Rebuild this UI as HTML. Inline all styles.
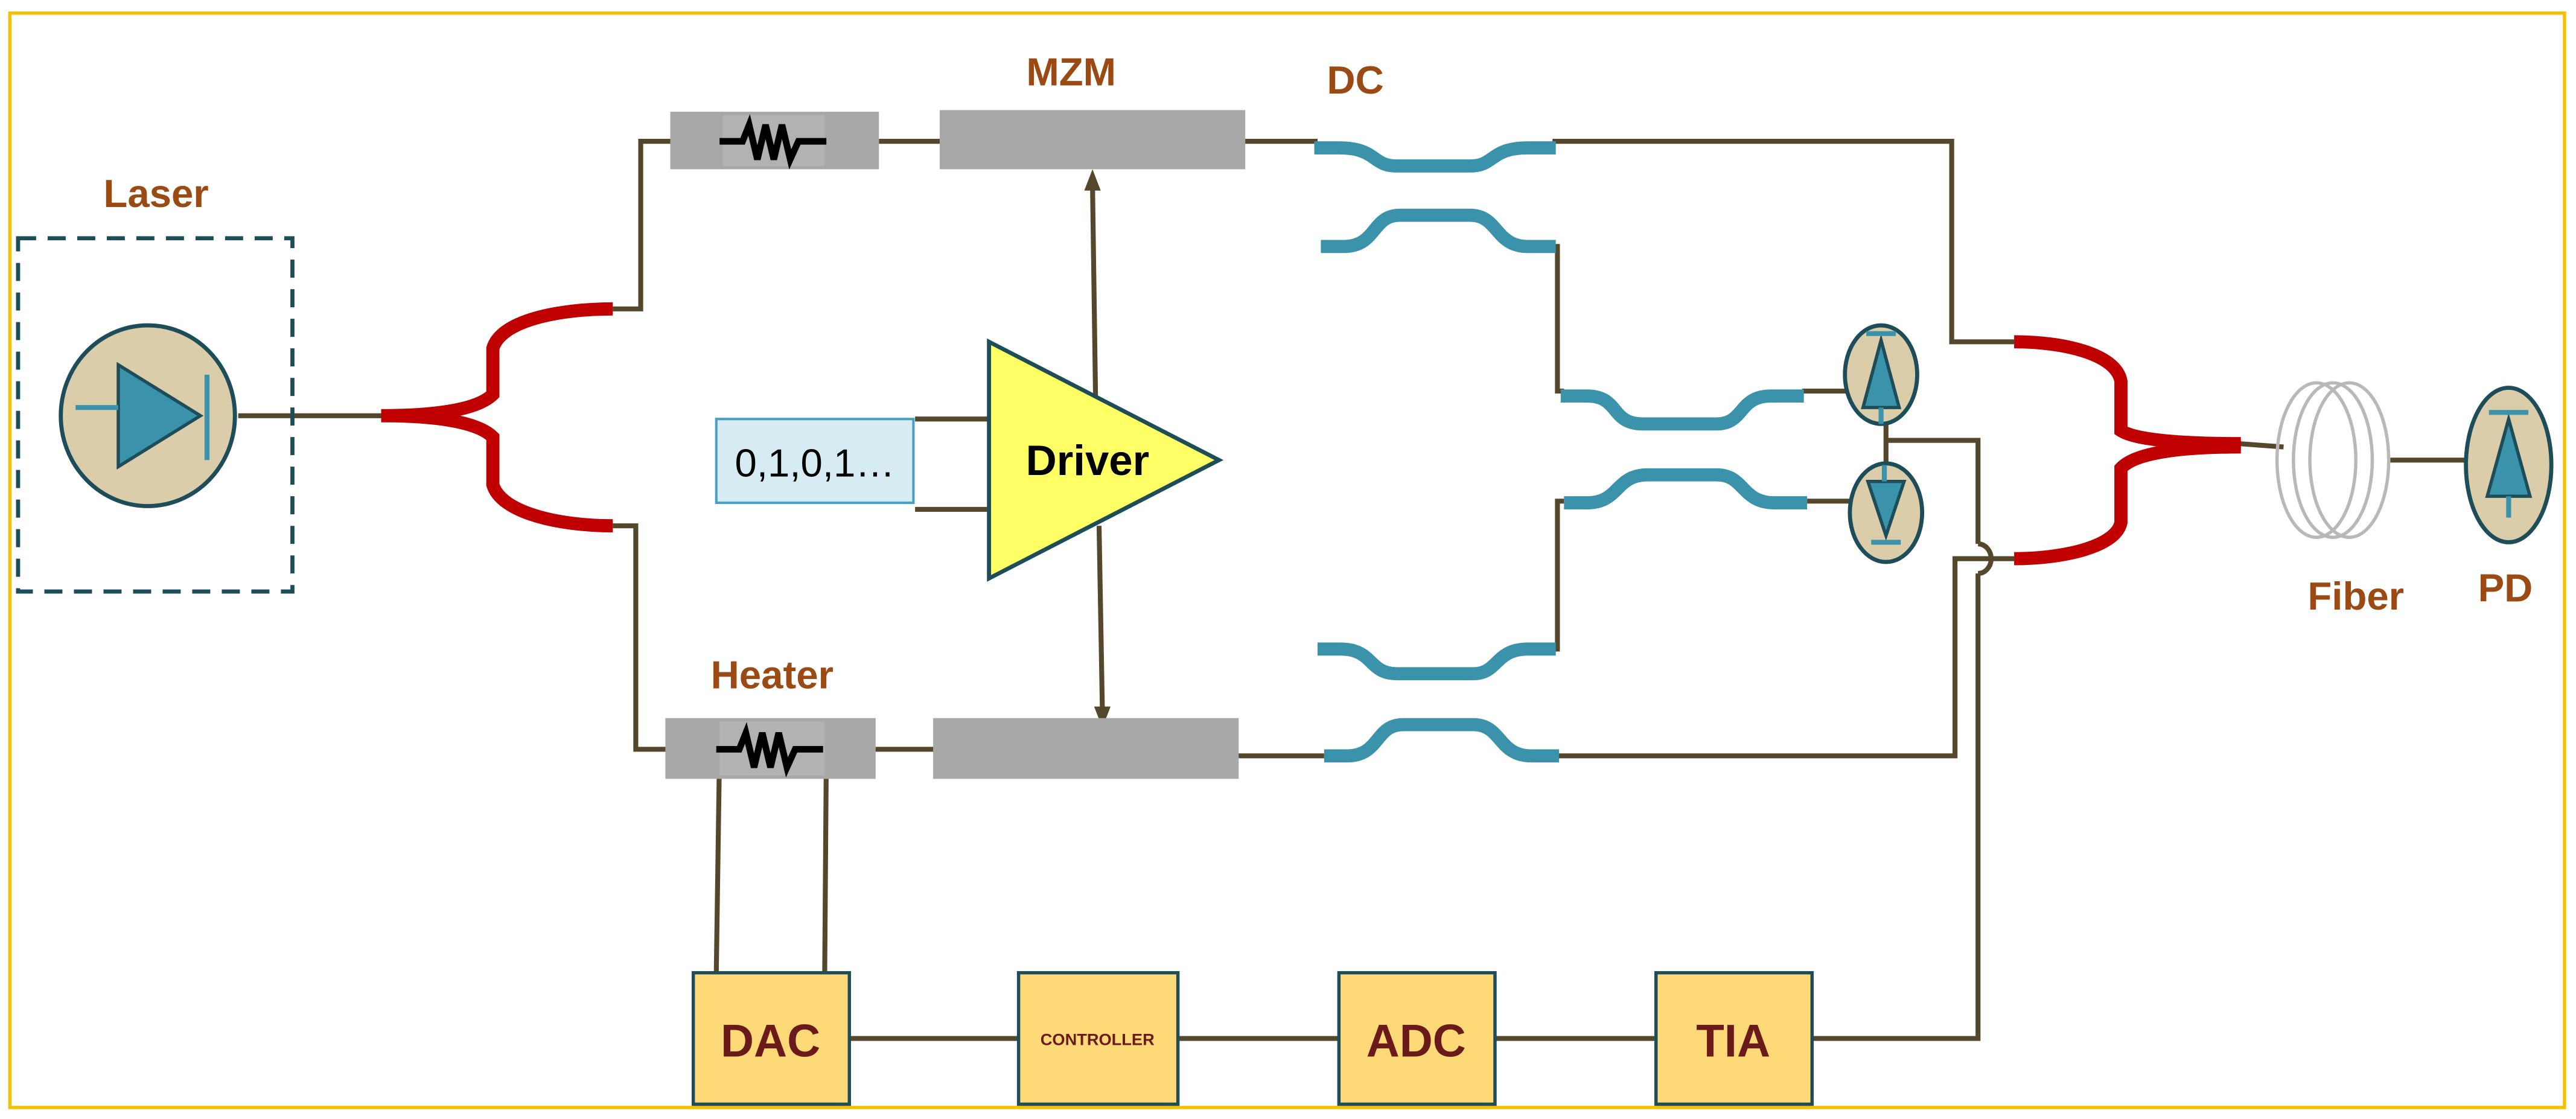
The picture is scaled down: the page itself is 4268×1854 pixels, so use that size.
<!DOCTYPE html>
<html><head><meta charset="utf-8"><style>
html,body{margin:0;padding:0;background:#fff;}
svg{display:block;}
text{font-family:"Liberation Sans",sans-serif;font-weight:bold;}
</style></head><body>
<svg width="4268" height="1854" viewBox="0 0 1568 681" preserveAspectRatio="none" xmlns="http://www.w3.org/2000/svg">
<rect x="0" y="0" width="1568" height="681" fill="#fff"/>
<rect x="6" y="8" width="1555" height="666" fill="none" stroke="#f5c000" stroke-width="2"/>

<g stroke="#54472c" stroke-width="3" fill="none">
<!-- laser to splitter -->
<line x1="145" y1="253" x2="232" y2="253"/>
<polyline points="373,188 390,188 390,86 410,86"/>
<polyline points="373,320 387,320 387,456 407,456"/>
<line x1="535" y1="86" x2="573" y2="86"/>
<line x1="532" y1="456" x2="569" y2="456"/>
<line x1="757" y1="86" x2="802" y2="86"/>
<line x1="753" y1="460" x2="806" y2="460"/>
<polyline points="945,86 1188,86 1188,208 1226,208"/>
<polyline points="945,150 948,150 948,238 952,238"/>
<polyline points="945,395 948,395 948,305 952,305"/>
<polyline points="945,460 1190,460 1190,340 1226,340"/>
<line x1="1097" y1="238" x2="1132" y2="238"/>
<line x1="1100" y1="305" x2="1135" y2="305"/>
<line x1="1148" y1="258" x2="1148" y2="283"/>
<polyline points="1148,268 1204,268 1204,331"/>
<path d="M1204,331 A8,9 0 0 1 1204,349"/>
<polyline points="1204,349 1204,632 1103,632"/>
<line x1="1363" y1="270" x2="1390" y2="272"/>
<line x1="1455" y1="280" x2="1503" y2="280"/>
<!-- bottom chain -->
<line x1="517" y1="632" x2="620" y2="632"/>
<line x1="717" y1="632" x2="815" y2="632"/>
<line x1="910" y1="632" x2="1008" y2="632"/>
<line x1="436" y1="592" x2="438" y2="456"/>
<line x1="502" y1="592" x2="503" y2="456"/>
<!-- driver inputs -->
<line x1="557" y1="255" x2="603" y2="255"/>
<line x1="557" y1="310" x2="603" y2="310"/>
<!-- arrows -->
<line x1="667" y1="252" x2="665" y2="112"/>
<line x1="669" y1="320" x2="671" y2="432"/>
</g>
<polygon points="665,103 660,116 670,116" fill="#54472c"/>
<polygon points="671,443 666,430 676,430" fill="#54472c"/>

<!-- Laser -->
<text x="95" y="126" font-size="24" fill="#9a4a12" text-anchor="middle">Laser</text>
<rect x="11" y="145" width="167" height="215" fill="none" stroke="#1e4d5a" stroke-width="2.5" stroke-dasharray="11,7"/>
<ellipse cx="90" cy="253" rx="53" ry="55" fill="#dccdaa" stroke="#1e4d5a" stroke-width="2.5"/>
<polygon points="72,222 72,284 122,253" fill="#3a93ab" stroke="#1e4d5a" stroke-width="2"/>
<line x1="126" y1="228" x2="126" y2="280" stroke="#3a93ab" stroke-width="3"/>
<line x1="46" y1="248" x2="72" y2="248" stroke="#3a93ab" stroke-width="3"/>

<!-- red splitter -->
<g stroke="#c00000" stroke-width="8" fill="none" stroke-linecap="butt">
<path d="M232,253 C262,253 290,250 300,240 L300,212 C305,195 340,188 373,188"/>
<path d="M232,253 C262,253 290,256 300,266 L300,295 C305,312 340,320 373,320"/>
<path d="M1226,208 C1255,208 1288,215 1291,232 L1291,262 C1300,268 1330,270 1364,270"/>
<path d="M1226,340 C1255,340 1288,333 1291,318 L1291,285 C1300,275 1330,272 1364,272"/>
</g>

<!-- heaters -->
<rect x="408" y="68" width="127" height="35" fill="#a8a8a8"/>
<rect x="440" y="70" width="62" height="31" fill="#b2b2b2"/>
<rect x="405" y="437" width="128" height="37" fill="#a8a8a8"/>
<rect x="438" y="439" width="64" height="33" fill="#b2b2b2"/>
<g stroke="#000" stroke-width="4" fill="none">
<polyline points="438,86 452,86 456,76 461,97 466,76 471,97 476,76 481,97 486,86 503,86"/>
<polyline points="436,456 450,456 454,446 459,467 464,446 469,467 474,446 479,467 484,456 501,456"/>
</g>
<!-- MZM arms -->
<rect x="572" y="67" width="186" height="36" fill="#a8a8a8"/>
<rect x="568" y="437" width="186" height="37" fill="#a8a8a8"/>
<text x="652" y="52" font-size="24" fill="#9a4a12" text-anchor="middle">MZM</text>
<text x="470" y="419" font-size="24" fill="#9a4a12" text-anchor="middle">Heater</text>
<text x="825" y="57" font-size="24" fill="#9a4a12" text-anchor="middle">DC</text>

<!-- data box & driver -->
<rect x="436" y="255" width="120" height="51" fill="#d6ecf2" stroke="#4aa0c0" stroke-width="1.5"/>
<text x="496" y="290" font-size="24" font-weight="normal" fill="#000" text-anchor="middle" style="font-weight:normal">0,1,0,1…</text>
<polygon points="602,208 602,352 742,280" fill="#ffff66" stroke="#1e4d5a" stroke-width="2.5"/>
<text x="662" y="289" font-size="26" fill="#000" text-anchor="middle">Driver</text>

<!-- directional couplers -->
<g stroke="#3a93ab" stroke-width="8" fill="none">
<path d="M800,90 L815,90 C838,90 835,101 850,101 L895,101 C910,101 907,90 930,90 L947,90"/>
<path d="M804,150 L818,150 C838,150 835,131 852,131 L895,131 C912,131 910,150 930,150 L947,150"/>
<path d="M950,241 L966,241 C986,241 980,258 1000,258 L1045,258 C1062,258 1058,241 1078,241 L1098,241"/>
<path d="M952,306 L966,306 C986,306 983,289 1003,289 L1045,289 C1062,289 1060,306 1080,306 L1100,306"/>
<path d="M802,395 L816,395 C836,395 833,410 850,410 L897,410 C912,410 910,395 930,395 L947,395"/>
<path d="M806,460 L820,460 C840,460 837,441 854,441 L897,441 C914,441 912,460 932,460 L949,460"/>
</g>

<!-- balanced PDs -->
<ellipse cx="1145" cy="228" rx="22" ry="30" fill="#dccdaa" stroke="#1e4d5a" stroke-width="2.5"/>
<polygon points="1145,207 1134,248 1156,248" fill="#3a93ab" stroke="#1e4d5a" stroke-width="2"/>
<line x1="1136" y1="203" x2="1154" y2="203" stroke="#3a93ab" stroke-width="3"/>
<line x1="1145" y1="248" x2="1145" y2="258" stroke="#3a93ab" stroke-width="3"/>
<ellipse cx="1148" cy="312" rx="22" ry="30" fill="#dccdaa" stroke="#1e4d5a" stroke-width="2.5"/>
<polygon points="1148,326 1137,293 1159,293" fill="#3a93ab" stroke="#1e4d5a" stroke-width="2"/>
<line x1="1139" y1="330" x2="1157" y2="330" stroke="#3a93ab" stroke-width="3"/>
<line x1="1147" y1="283" x2="1147" y2="293" stroke="#3a93ab" stroke-width="3"/>

<!-- fiber -->
<g fill="none" stroke="#b8b8b8" stroke-width="2">
<ellipse cx="1410" cy="280" rx="24" ry="47"/>
<ellipse cx="1420" cy="280" rx="24" ry="47"/>
<ellipse cx="1430" cy="280" rx="24" ry="47"/>
</g>
<text x="1434" y="371" font-size="24" fill="#9a4a12" text-anchor="middle">Fiber</text>
<ellipse cx="1527" cy="283" rx="26" ry="47" fill="#dccdaa" stroke="#1e4d5a" stroke-width="2.5"/>
<polygon points="1527,255 1514,302 1540,302" fill="#3a93ab" stroke="#1e4d5a" stroke-width="2"/>
<line x1="1515" y1="251" x2="1539" y2="251" stroke="#3a93ab" stroke-width="3"/>
<line x1="1527" y1="302" x2="1527" y2="315" stroke="#3a93ab" stroke-width="3"/>
<text x="1525" y="366" font-size="24" fill="#9a4a12" text-anchor="middle">PD</text>

<!-- electronics -->
<g fill="#fdd978" stroke="#1e4d5a" stroke-width="2">
<rect x="422" y="592" width="95" height="80"/>
<rect x="620" y="592" width="97" height="80"/>
<rect x="815" y="592" width="95" height="80"/>
<rect x="1008" y="592" width="95" height="80"/>
</g>
<g fill="#6b1a1a" text-anchor="middle">
<text x="469" y="643" font-size="28">DAC</text>
<text x="668" y="636" font-size="10">CONTROLLER</text>
<text x="862" y="643" font-size="28">ADC</text>
<text x="1055" y="643" font-size="28">TIA</text>
</g>
</svg>
</body></html>
